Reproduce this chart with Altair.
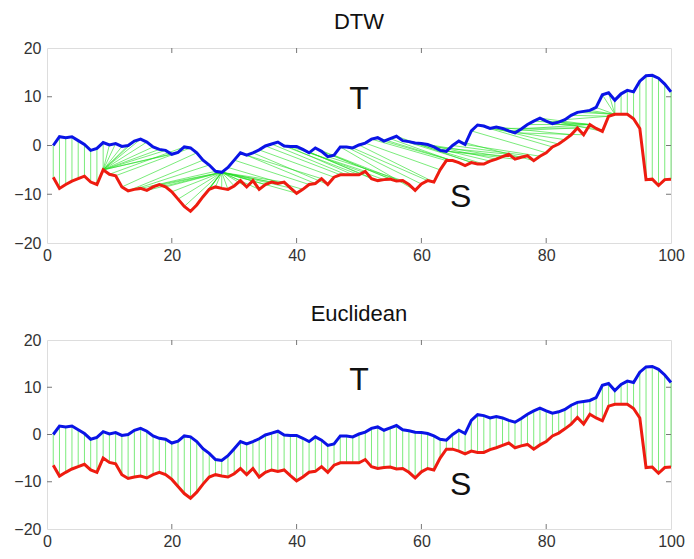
import altair as alt
import numpy as np
import pandas as pd

# ---- data ----
t_values = [0.0, 1.8, 1.6, 1.8, 1.0, 0.2, -1.0, -0.6, 0.6, 0.1,
            0.4, -0.2, 0.0, 0.9, 1.3, 0.7, -0.3, -0.8, -1.0, -1.8,
            -1.4, -0.3, -0.5, -1.5, -3.0, -4.0, -5.3, -5.5, -4.5, -3.0,
            -1.5, -2.0, -1.5, -0.9, -0.1, 0.3, 0.7, -0.1, -0.2, -0.2,
            -0.8, -1.5, -0.5, -1.2, -2.3, -2.0, -0.3, -0.3, -0.5, 0.1,
            0.5, 1.3, 1.6, 0.9, 1.4, 1.9, 1.0, 0.8, 0.5, 0.4,
            0.2, -0.3, -1.0, -1.2, 0.0, 0.9, 0.2, 3.0, 4.2, 4.0,
            3.5, 3.8, 3.5, 3.0, 2.6, 3.4, 4.3, 5.0, 5.6, 5.0,
            4.5, 4.8, 5.3, 6.2, 6.8, 7.0, 7.2, 7.8, 10.4, 10.8,
            9.3, 10.6, 11.3, 11.0, 13.2, 14.3, 14.4, 13.8, 12.6, 11.0]

s_values = [-6.5, -8.8, -8.0, -7.3, -6.8, -6.3, -7.5, -8.0, -5.0, -5.9,
            -6.2, -8.5, -9.3, -9.0, -8.8, -9.2, -8.5, -8.0, -8.5, -9.5,
            -11.0, -12.5, -13.5, -12.2, -10.5, -9.0, -8.5, -8.8, -9.0, -8.3,
            -7.2, -8.5, -7.2, -9.0, -8.0, -7.5, -7.8, -7.5, -8.7, -9.8,
            -9.0, -8.0, -7.8, -6.8, -8.0, -6.5, -6.0, -6.0, -6.0, -6.0,
            -5.3, -6.8, -7.2, -7.0, -6.9, -7.3, -7.2, -8.0, -9.2, -7.9,
            -7.2, -7.5, -5.0, -3.1, -3.1, -3.5, -4.1, -3.5, -3.8, -3.8,
            -3.2, -2.8, -2.3, -1.8, -2.8, -2.4, -2.1, -3.1, -2.2, -1.5,
            -0.3, 0.3, 1.2, 2.2, 3.6, 2.2, 4.3, 3.5, 2.9, 6.0,
            6.4, 6.4, 6.4, 5.5, 3.5, -7.0, -6.9, -8.2, -7.0, -6.9]

x_ticks = [0, 20, 40, 60, 80, 100]
y_ticks = [-20, -10, 0, 10, 20]
panel_titles = ["DTW", "Euclidean"]
warp_window = 12

# ---- derived tables ----
idx = list(range(1, len(t_values) + 1))
series_df = pd.concat([
    pd.DataFrame({"x": idx, "v": t_values, "series": "T"}),
    pd.DataFrame({"x": idx, "v": s_values, "series": "S"}),
])

# Euclidean: one-to-one connections
euc_df = pd.DataFrame({"x": idx, "x2": idx, "t": t_values, "s": s_values})

# DTW alignment between T and S (Sakoe-Chiba band)
T = np.array(t_values)
S = np.array(s_values)
n, m = len(T), len(S)
D = np.full((n + 1, m + 1), np.inf)
D[0, 0] = 0.0
for i in range(1, n + 1):
    for j in range(max(1, i - warp_window), min(m, i + warp_window) + 1):
        c = abs(T[i - 1] - S[j - 1])
        D[i, j] = c + min(D[i - 1, j], D[i, j - 1], D[i - 1, j - 1])
i, j = n, m
path = [(i, j)]
while (i, j) != (1, 1):
    opts = []
    if i > 1 and j > 1:
        opts.append((D[i - 1, j - 1], i - 1, j - 1))
    if i > 1:
        opts.append((D[i - 1, j], i - 1, j))
    if j > 1:
        opts.append((D[i, j - 1], i, j - 1))
    _, i, j = min(opts)
    path.append((i, j))
dtw_df = pd.DataFrame({
    "x": [p[0] for p in path],
    "t": [t_values[p[0] - 1] for p in path],
    "x2": [p[1] for p in path],
    "s": [s_values[p[1] - 1] for p in path],
})

FONT = "Liberation Sans"
W = 624
BLUE = "#0a14e6"
RED = "#ee1c10"
GREEN = "#22dd22"

xs = alt.Scale(domain=[0, 100], nice=False)
ys = alt.Scale(domain=[-20, 20], nice=False)


def panel(conn_df, title, ty, sy, H):
    xax = alt.Axis(values=x_ticks, tickSize=0, labelPadding=4, grid=False,
                   domain=False, labelFontSize=16, labelColor="#333",
                   labelFont=FONT, title=None, labelFlush=False)
    yax = alt.Axis(values=y_ticks, tickSize=0, labelPadding=6, grid=False,
                   domain=False, labelFontSize=16, labelColor="#333",
                   labelFont=FONT, title=None, labelFlush=False)
    conn = alt.Chart(conn_df).mark_rule(color=GREEN, strokeWidth=0.8, opacity=0.75).encode(
        x=alt.X("x:Q", scale=xs, axis=xax),
        y=alt.Y("t:Q", scale=ys, axis=yax),
        x2="x2:Q",
        y2="s:Q",
    )
    lines = alt.Chart(series_df).mark_line(strokeWidth=3).encode(
        x=alt.X("x:Q", scale=xs),
        y=alt.Y("v:Q", scale=ys),
        color=alt.Color("series:N", scale=alt.Scale(domain=["T", "S"], range=[BLUE, RED]), legend=None),
    )
    labels = alt.Chart(pd.DataFrame({"x": [50, 66.3], "y": [ty, sy], "txt": ["T", "S"]})).mark_text(
        fontSize=32, font=FONT, color="#111"
    ).encode(x=alt.X("x:Q", scale=xs), y=alt.Y("y:Q", scale=ys), text="txt:N")
    xt = pd.DataFrame({"v": x_ticks[1:-1]})
    yt = pd.DataFrame({"v": y_ticks[1:-1]})
    tick_b = alt.Chart(xt).mark_rule(color="#777").encode(x=alt.X("v:Q", scale=xs), y=alt.value(H), y2=alt.value(H - 5))
    tick_t = alt.Chart(xt).mark_rule(color="#777").encode(x=alt.X("v:Q", scale=xs), y=alt.value(0), y2=alt.value(5))
    tick_l = alt.Chart(yt).mark_rule(color="#777").encode(y=alt.Y("v:Q", scale=ys), x=alt.value(0), x2=alt.value(5))
    tick_r = alt.Chart(yt).mark_rule(color="#777").encode(y=alt.Y("v:Q", scale=ys), x=alt.value(W), x2=alt.value(W - 5))
    return alt.layer(conn, lines, labels, tick_b, tick_t, tick_l, tick_r).properties(
        width=W, height=H,
        title=alt.TitleParams(title, fontSize=22, font=FONT, fontWeight="normal",
                              color="#111", anchor="middle", offset=6),
    )


top = panel(dtw_df, panel_titles[0], 9.5, -10.6, 195)
bottom = panel(euc_df, panel_titles[1], 11.5, -10.6, 189)

chart = alt.vconcat(top, bottom, spacing=38).properties(
    padding={"left": 5, "top": 2, "right": 0, "bottom": 0}
).configure_view(stroke="#999", strokeWidth=1).configure(background="white")

chart.save("out.html", embed_options={"renderer": "svg", "actions": False})
